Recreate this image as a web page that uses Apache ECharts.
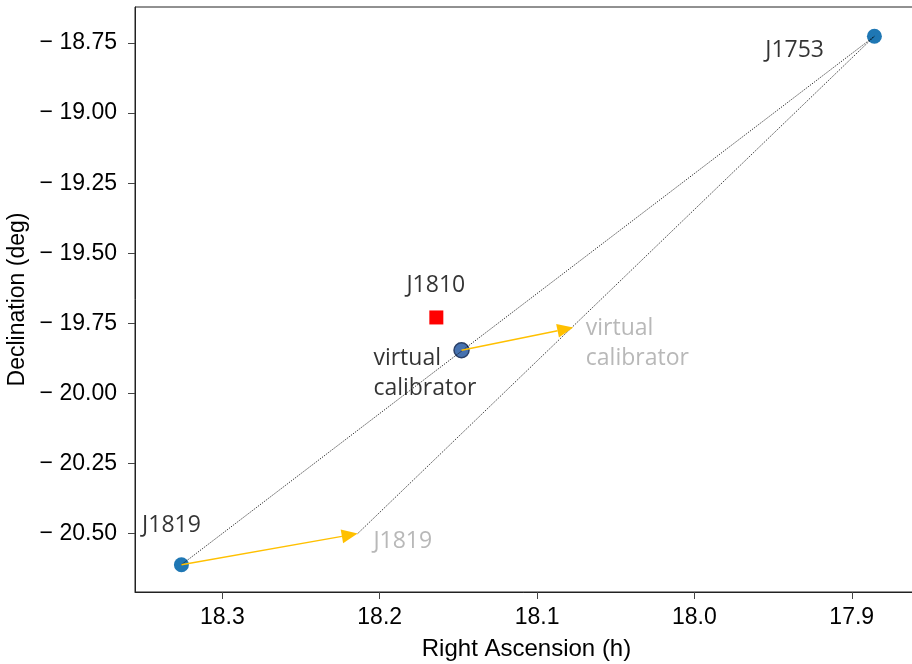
<!DOCTYPE html>
<html><head><meta charset="utf-8">
<script src="https://cdn.jsdelivr.net/npm/echarts@6/dist/echarts.min.js"></script>
<style>html,body{margin:0;padding:0;background:#fff}#c{width:912px;height:664px}</style>
</head><body><div id="c"></div>
<script>
// ---- data ----
const calNames = ['J1819', 'J1753'];
const calRA = [18.326, 17.8856];
const calDec = [-20.611, -18.726];
const targetName = 'J1810';
const targetRA = [18.164];
const targetDec = [-19.729];
const vcRA = [18.148];
const vcDec = [-19.846];
const arrowFromRA = [18.326, 18.148];
const arrowFromDec = [-20.611, -19.846];
const arrowToRA = [18.214, 18.077];
const arrowToDec = [-20.50, -19.765];
// dotted lines: from -> to
const dotFromRA = [18.326, 18.214];
const dotFromDec = [-20.611, -20.50];
const dotToRA = [17.8856, 17.8856];
const dotToDec = [-18.726, -18.726];
// annotation texts
const labelTexts = ['J1753', 'J1819', 'J1810', 'virtual\ncalibrator', 'J1819', 'virtual\ncalibrator'];
const labelRA = [17.955, 18.351, 18.183, 18.204, 18.204, 18.069];
const labelDec = [-18.775, -20.472, -19.616, -19.928, -20.528, -19.820];
const labelGrey = [false, false, false, false, true, true];
const xTicks = [18.3, 18.2, 18.1, 18.0, 17.9];
const yTicks = [-18.75, -19.00, -19.25, -19.50, -19.75, -20.00, -20.25, -20.50];
const xMin = 17.8579, xMax = 18.3555;
const yMin = -20.7083, yMax = -18.6216;

const chart = echarts.init(document.getElementById('c'), null, {renderer: 'canvas'});
const tickFont = {fontFamily: 'Liberation Sans', fontSize: 23, color: '#000'};

const option = {
  animation: false,
  grid: {left: 135, right: -6, top: 7, bottom: 72, containLabel: false, outerBoundsMode: 'none',
    show: true, borderColor: '#222', borderWidth: 1, backgroundColor: 'transparent'},
  xAxis: [{
    type: 'value', inverse: true, min: xMin, max: xMax,
    name: 'Right Ascension (h)', nameLocation: 'middle', nameGap: 45,
    nameTextStyle: {fontFamily: 'Liberation Sans', fontSize: 24, color: '#000'},
    axisLine: {show: true, onZero: false, lineStyle: {color: '#222', width: 1}},
    axisTick: {show: true, length: 7, customValues: xTicks, lineStyle: {color: '#444'}},
    axisLabel: Object.assign({customValues: xTicks, margin: 14, formatter: v => v.toFixed(1)}, tickFont),
    splitLine: {show: false}
  }],
  yAxis: [{
    type: 'value', min: yMin, max: yMax,
    name: 'Declination (deg)', nameLocation: 'middle', nameGap: 105,
    nameTextStyle: {fontFamily: 'Liberation Sans', fontSize: 23, color: '#000'},
    axisLine: {show: true, onZero: false, lineStyle: {color: '#222', width: 1}},
    axisTick: {show: true, length: 7, customValues: yTicks, lineStyle: {color: '#444'}},
    axisLabel: Object.assign({customValues: yTicks, margin: 18, formatter: v => '\u2212 ' + Math.abs(v).toFixed(2)}, tickFont),
    splitLine: {show: false}
  }],
  series: [
    {
      type: 'scatter', symbol: 'circle', symbolSize: 15, z: 2,
      itemStyle: {color: '#1f77b4', opacity: 1},
      data: calRA.map((x, i) => [x, calDec[i]])
    },
    {
      type: 'scatter', symbol: 'rect', symbolSize: 14, z: 2,
      itemStyle: {color: '#ff0000', opacity: 1},
      data: targetRA.map((x, i) => [x, targetDec[i]])
    },
    {
      type: 'scatter', symbol: 'circle', symbolSize: 15, z: 2,
      itemStyle: {color: '#4672b0', borderColor: '#2a4068', borderWidth: 1.5, opacity: 1},
      data: vcRA.map((x, i) => [x, vcDec[i]])
    },
    {
      type: 'custom', z: 3, silent: true,
      data: dotFromRA.map((x, i) => [x, dotFromDec[i], dotToRA[i], dotToDec[i]]),
      renderItem: (params, api) => {
        const a = api.coord([api.value(0), api.value(1)]);
        const b = api.coord([api.value(2), api.value(3)]);
        return {type: 'line', shape: {x1: a[0], y1: a[1], x2: b[0], y2: b[1]},
          style: {stroke: '#000', lineWidth: 0.8, lineDash: [1.3, 1.3]}};
      }
    },
    {
      type: 'custom', z: 4, silent: true,
      data: arrowFromRA.map((x, i) => [x, arrowFromDec[i], arrowToRA[i], arrowToDec[i]]),
      renderItem: (params, api) => {
        const a = api.coord([api.value(0), api.value(1)]);
        const b = api.coord([api.value(2), api.value(3)]);
        const dx = b[0] - a[0], dy = b[1] - a[1];
        const L = Math.sqrt(dx * dx + dy * dy);
        const ux = dx / L, uy = dy / L, px = -uy, py = ux;
        const hl = 16, hw = 7;
        const bx = b[0] - ux * hl, by = b[1] - uy * hl;
        return {type: 'group', children: [
          {type: 'line', shape: {x1: a[0], y1: a[1], x2: bx, y2: by},
            style: {stroke: '#ffc000', lineWidth: 1.5}},
          {type: 'polygon', shape: {points: [[b[0], b[1]], [bx + px * hw, by + py * hw], [bx - px * hw, by - py * hw]]},
            style: {fill: '#ffc000'}}
        ]};
      }
    },
    {
      type: 'scatter', symbolSize: 0, z: 5, silent: true,
      data: labelTexts.map((t, i) => ({
        value: [labelRA[i], labelDec[i]], name: t,
        label: {color: labelGrey[i] ? '#a6a6a6' : '#000'}
      })),
      label: {
        show: true, position: 'inside', align: 'left', verticalAlign: 'middle',
        formatter: p => p.name, fontFamily: 'Open Sans', fontSize: 23, lineHeight: 30
      }
    }
  ]
};
chart.setOption(option);
</script></body></html>
